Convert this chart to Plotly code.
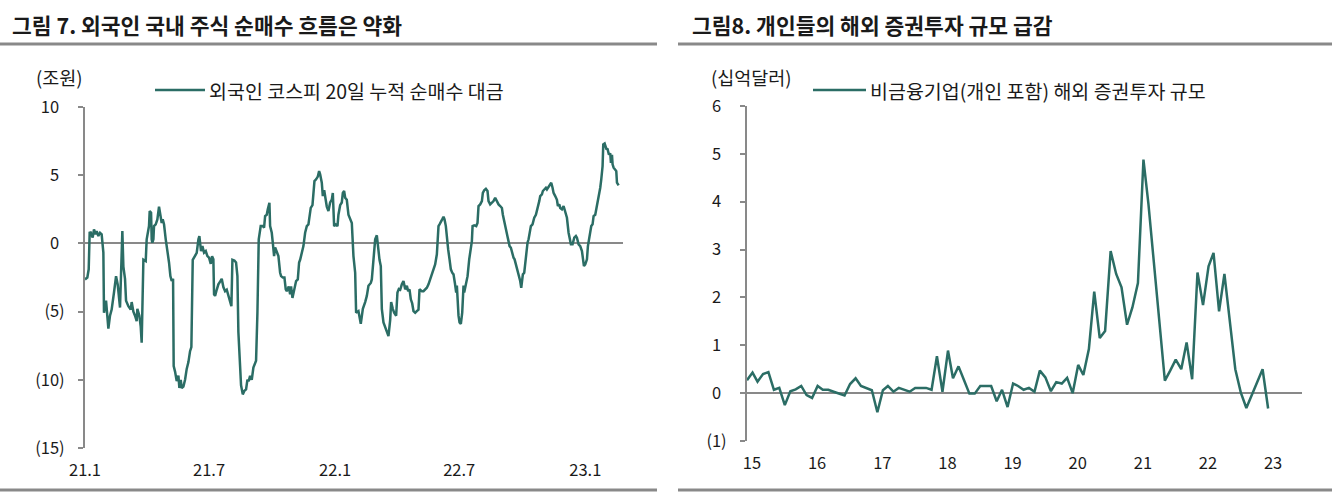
import pandas as pd
import plotly.graph_objects as go

# ---------------------------------------------------------------
# Data
# ---------------------------------------------------------------

# left chart: foreign KOSPI 20-day cumulative net buying (trillion won)
LEFT_START = "2021-01-01"
LEFT_DAYS = [
    0, 3.4, 5.4, 6.8, 8.3, 11.2, 13.1, 15.6, 17, 19.5,
    21.9, 24.3, 26.8, 27.7, 30.7, 32.6, 34.1, 36.5, 38.9, 42.3,
    45.3, 47.7, 51.1, 54.5, 56, 58.4, 59.9, 63.3, 66.7, 68.1,
    70.6, 73, 75.4, 76.4, 79.3, 81.3, 82.7, 85.2, 88.6, 90,
    91.5, 93.4, 94.4, 96.4, 97.3, 98.3, 99.8, 100.7, 103.2, 105.6,
    108, 110, 111.9, 113.4, 115.3, 117.8, 120.2, 122.6, 124.6, 126.5,
    128.5, 129.4, 131.4, 133.8, 136.3, 137.7, 139.7, 141.1, 143.6, 146,
    148.4, 150.9, 153.3, 155.2, 157.2, 160.6, 163, 165.5, 166.9, 167.9,
    169.3, 171.3, 173.7, 176.2, 178.6, 181, 183.5, 185.4, 187.3, 188.3,
    189.8, 192.2, 194.6, 197.1, 199.5, 201.9, 204.4, 206.8, 210.7, 213.6,
    215.1, 218, 220.4, 222.4, 223.8, 226.3, 227.7, 230.2, 232.6, 235,
    237, 238.9, 240.9, 243.3, 245.7, 249.6, 251.6, 253.5, 256.4, 259.4,
    261.3, 262.8, 265.2, 266.7, 269.1, 270.1, 272.5, 274, 275.9, 277.4,
    279.8, 282.2, 284.7, 286.1, 288.6, 291, 292.9, 294.4, 295.4, 297.3,
    299.3, 300.7, 302.7, 304.1, 306.6, 308, 310.5, 312.4, 313.9, 316.3,
    318.7, 321.2, 323.6, 326, 327.5, 329.4, 331.9, 333.3, 334.8, 337.2,
    339.7, 341.6, 343.1, 345.5, 347, 349, 350.4, 352.8, 355.2, 357.7,
    360.1, 361.6, 363.5, 365.9, 368.4, 369.8, 372.3, 374.7, 376.2, 378.1,
    379.6, 382, 384.4, 386.9, 389.3, 391.7, 394.2, 395.6, 399, 402.4,
    405.4, 408.8, 411.2, 413.6, 417, 418.5, 420, 421.9, 423.4, 425.8,
    427.3, 429.7, 431.6, 433.1, 435.5, 438.9, 442.8, 445.3, 446.7, 449.1,
    451.1, 454, 455.9, 457.9, 459.9, 462.3, 464.7, 467.2, 469.6, 471.5,
    473.5, 475.4, 477.4, 479.3, 481.8, 484.2, 486.6, 488.1, 491.5, 493.9,
    496.4, 498.8, 501.2, 503.6, 506.1, 508.5, 510.9, 513.4, 514.4, 515.8,
    517.3, 519.2, 521.2, 523.1, 524.6, 526.5, 528, 529.9, 531.9, 533.8,
    535.8, 537.7, 539.7, 541.6, 542.6, 543.6, 545, 546.5, 548.4, 550.4,
    551.3, 552.3, 553.3, 555.7, 558.2, 560.6, 563, 564.5, 565.5, 567.9,
    570.8, 572.7, 574.2, 576.6, 579.1, 580.5, 582.5, 584.9, 587.3, 588.8,
    591.2, 593.7, 596.1, 598.5, 600.9, 603.4, 605.8, 608.3, 609.7, 612.2,
    614.6, 616.5, 618, 619.5, 621.4, 622.9, 625.3, 626.8, 628.7, 630.2,
    631.6, 633.6, 635, 636.5, 637.5, 638.9, 640.9, 642.3, 643.8, 645.7,
    647.2, 648.7, 650.6, 653, 655.5, 657.9, 660.3, 662.8, 664.2, 666.7,
    668.1, 670.1, 672.5, 674, 676.4, 678.8, 680.3, 682.2, 683.7, 686.1,
    688.6, 690, 692, 693.4, 695.9, 698.3, 700.7, 703.2, 705.6, 707.1,
    709, 711.4, 713.9, 716.3, 717.8, 720.2, 722.6, 725.1, 726.5, 728,
    729.9, 732.4, 733.8, 735.8, 737.2, 738.7, 740.6, 742.1, 744.5, 747,
    749.4, 751.8, 753.3, 755.2, 756.2, 758.2, 760.6, 762.5, 764.5, 766.4,
    767.4, 768.9, 769.8, 771.3, 773.7, 775.2, 776.2, 778.6,
]
LEFT_VALUES = [
    -2.64, -2.5, -1.9, 0.78, 0.8, 0.42, 1.03, 0.66, 0.9, 0.54,
    0.78, 0.66, -0.68, -5.08, -4.2, -5.2, -6.25, -5.3, -4.85, -3.6,
    -2.4, -3.0, -4.7, 0.9, -1.7, -2.6, -4.2, -4.6, -4.85, -4.3,
    -5.0, -5.3, -5.7, -4.8, -5.3, -6.1, -7.28, -1.2, -1.3, 0.3,
    0.9, 1.27, 2.37, 2.25, 0.3, 0.05, 0.3, 1.27, 1.4, 1.76,
    2.69, 2.1, 1.5, 1.76, 1.4, 0.3, -0.44, -1.4, -2.4, -2.76,
    -2.6, -9.0, -9.4, -10.1, -9.7, -10.6, -10.0, -10.6, -10.5, -10.0,
    -9.2, -8.7, -7.9, -7.6, -1.2, -0.9, -0.7, 0.3, 0.54, 0.05,
    -0.56, -0.2, -0.68, -0.56, -0.93, -1.05, -1.5, -0.93, -1.17, -3.74,
    -3.85, -3.4, -3.0, -2.8, -2.6, -3.2, -3.5, -3.4, -4.0, -4.6,
    -1.2, -1.25, -1.4, -2.4, -6.5, -9.3, -10.4, -11.07, -10.8, -10.7,
    -10.0, -10.1, -9.7, -10.0, -9.1, -8.6, -5.07, 0.3, 1.27, 1.27,
    1.15, 2.0, 2.1, 2.5, 2.98, 1.27, 0.78, 0.05, -0.93, -0.3,
    -0.56, -0.93, -2.15, -2.4, -2.5, -2.5, -3.37, -3.5, -3.4, -3.15,
    -3.74, -3.15, -4.0, -3.6, -2.9, -2.76, -2.64, -1.4, -1.2, -0.73,
    -0.2, 0.78, 1.27, 1.39, 2.0, 2.6, 2.8, 3.47, 4.57, 4.7,
    4.9, 5.3, 5.06, 4.45, 3.47, 3.9, 3.47, 2.7, 2.37, 3.0,
    3.2, 3.7, 1.27, 1.39, 1.27, 2.1, 2.8, 3.0, 3.7, 3.84,
    3.35, 3.2, 2.1, 1.76, 1.5, -0.93, -2.15, -5.08, -4.96, -5.9,
    -4.8, -4.3, -3.85, -3.1, -2.9, -2.64, -1.66, -0.7, 0.3, 0.59,
    -0.2, -1.2, -1.66, -4.8, -5.8, -6.3, -6.8, -5.6, -4.3, -4.8,
    -5.08, -5.3, -3.6, -3.35, -3.4, -3.0, -2.76, -3.37, -3.1, -3.5,
    -3.37, -4.1, -4.4, -4.96, -5.08, -4.96, -4.85, -3.37, -3.5, -3.5,
    -3.37, -3.25, -3.0, -2.64, -2.4, -2.0, -1.54, -0.8, 0.3, 1.27,
    1.4, 1.64, 1.76, 1.96, 1.76, 1.27, 0.3, -0.44, -1.17, -1.9,
    -2.15, -2.27, -2.9, -3.6, -3.1, -4.1, -5.3, -5.8, -5.9, -5.08,
    -4.1, -3.1, -3.6, -3.1, -2.4, -1.17, -0.2, 0.17, 1.27, 1.32,
    1.27, 1.5, 2.74, 2.86, 3.1, 3.7, 3.9, 4.0, 3.84, 3.1,
    2.86, 2.98, 3.1, 3.35, 3.1, 2.86, 2.74, 2.6, 2.1, 1.5,
    0.78, 0.3, -0.07, -0.2, -0.32, -0.68, -1.05, -1.17, -1.54, -1.9,
    -2.15, -2.4, -2.76, -3.25, -2.64, -2.27, -2.15, -1.54, -0.68, 0.05,
    0.3, 0.78, 1.27, 1.4, 1.88, 2.1, 2.5, 3.1, 3.47, 3.6,
    3.84, 3.96, 4.08, 3.96, 4.16, 4.33, 4.45, 4.08, 3.7, 3.47,
    3.2, 2.74, 2.86, 2.6, 2.5, 2.74, 2.25, 1.88, 0.78, 0.3,
    -0.07, -0.07, 0.42, 0.54, 0.42, -0.07, -0.2, -0.56, -1.17, -1.66,
    -1.54, -1.17, -0.2, 0.54, 1.03, 1.27, 1.4, 2.0, 2.1, 2.74,
    3.47, 4.08, 4.7, 5.67, 7.26, 7.33, 6.94, 6.9, 6.5, 6.6,
    5.9, 6.5, 5.8, 5.55, 5.4, 5.3, 4.45, 4.25,
]
LEFT_TICK_DATES = ["2021-01-01", "2021-07-01", "2022-01-01", "2022-07-01", "2023-01-01"]
LEFT_TICK_LABELS = ["21.1", "21.7", "22.1", "22.7", "23.1"]
LEFT_Y_TICKS = [10, 5, 0, -5, -10, -15]

# right chart: non-financial (incl. individuals) overseas securities investment (bn USD), monthly
RIGHT_START = "2015-01-01"
RIGHT_VALUES = [
    0.27, 0.43, 0.24, 0.40, 0.44, 0.07, 0.11, -0.25, 0.04, 0.08, 0.15, -0.04,
    -0.10, 0.15, 0.07, 0.07, 0.03, -0.01, -0.05, 0.19, 0.31, 0.15, 0.10, 0.06,
    -0.40, 0.06, 0.15, 0.03, 0.11, 0.07, 0.03, 0.11, 0.11, 0.11, 0.07, 0.77,
    0.03, 0.89, 0.31, 0.56, 0.28, -0.01, -0.01, 0.15, 0.15, 0.15, -0.17, 0.07,
    -0.29, 0.20, 0.15, 0.07, 0.11, 0.03, 0.47, 0.33, 0.04, 0.23, 0.20, 0.32,
    0.00, 0.59, 0.38, 0.92, 2.12, 1.15, 1.30, 2.97, 2.49, 2.21, 1.43, 1.79,
    2.30, 4.88, 3.95, None, None, 0.26, 0.47, 0.70, 0.50, 1.06, 0.29, 2.52,
    1.84, 2.65, 2.93, 1.71, 2.49, None, 0.50, 0.01, -0.31, None, None, 0.50,
    -0.32,
]
RIGHT_YEARS = [2015, 2016, 2017, 2018, 2019, 2020, 2021, 2022, 2023]
RIGHT_Y_TICKS = [6, 5, 4, 3, 2, 1, 0, -1]

# ---------------------------------------------------------------
# Style
# ---------------------------------------------------------------

W, H = 1343, 493
FONT = "Noto Sans CJK KR"
TEAL = "#2b6d65"
GRAY = "#898989"
TEXT = "#1a1a1a"
GHOST = '<span style="color:rgba(0,0,0,0)">)</span>'


def px_x(p):
    return p / W


def px_y(p):
    return 1 - p / H


def acct(v):
    return f"({abs(v)})" if v < 0 else f"{v}{GHOST}"


left_dates = pd.Timestamp(LEFT_START) + pd.to_timedelta(LEFT_DAYS, unit="D")
right_dates = pd.date_range(RIGHT_START, periods=len(RIGHT_VALUES), freq="MS")
right_tick_dates = [f"{y}-01-01" for y in RIGHT_YEARS]
right_tick_labels = [str(y)[2:] for y in RIGHT_YEARS]

fig = go.Figure()

fig.add_trace(
    go.Scatter(
        x=left_dates,
        y=LEFT_VALUES,
        mode="lines",
        line=dict(color=TEAL, width=2.5),
        xaxis="x",
        yaxis="y",
        showlegend=False,
        hoverinfo="skip",
    )
)

fig.add_trace(
    go.Scatter(
        x=right_dates,
        y=RIGHT_VALUES,
        mode="lines",
        connectgaps=True,
        line=dict(color=TEAL, width=2.5),
        xaxis="x2",
        yaxis="y2",
        showlegend=False,
        hoverinfo="skip",
    )
)

tickfont = dict(family=FONT, size=16.5, color=TEXT)

label_x = dict(
    showline=False, showgrid=False, zeroline=False, ticks="",
    tickfont=tickfont, automargin=False, ticklabelstandoff=10,
)
tick_x = dict(
    showline=False, showgrid=False, zeroline=False, ticks="outside",
    ticklen=5, tickwidth=2, tickcolor=GRAY, showticklabels=False,
    anchor="free", automargin=False,
)
value_y = dict(
    showline=True, linecolor=GRAY, linewidth=2, showgrid=False,
    ticks="outside", ticklen=5, tickwidth=2, tickcolor=GRAY,
    zeroline=True, zerolinecolor=GRAY, zerolinewidth=2,
    tickfont=tickfont, automargin=False, ticklabelstandoff=10,
)

fig.update_layout(
    width=W,
    height=H,
    template="none",
    paper_bgcolor="white",
    plot_bgcolor="white",
    margin=dict(l=0, r=0, t=0, b=0),
    font=dict(family=FONT, color=TEXT),
    showlegend=False,
    xaxis=dict(
        label_x,
        domain=[px_x(85), px_x(623)],
        anchor="y",
        range=["2021-01-01", "2023-02-25"],
        tickvals=LEFT_TICK_DATES,
        ticktext=LEFT_TICK_LABELS,
    ),
    xaxis3=dict(
        tick_x,
        overlaying="x",
        matches="x",
        position=px_y(244),
        tickvals=LEFT_TICK_DATES,
    ),
    yaxis=dict(
        value_y,
        domain=[px_y(448), px_y(107)],
        anchor="x",
        range=[-15, 10],
        tickvals=LEFT_Y_TICKS,
        ticktext=[acct(v) for v in LEFT_Y_TICKS],
    ),
    xaxis2=dict(
        label_x,
        domain=[px_x(747), px_x(1302)],
        anchor="y2",
        range=["2015-01-01", "2023-07-10"],
        tickvals=right_tick_dates,
        ticktext=right_tick_labels,
        ticklabelshift=5,
    ),
    xaxis4=dict(
        tick_x,
        overlaying="x2",
        matches="x2",
        position=px_y(394),
        tickvals=right_tick_dates,
    ),
    yaxis2=dict(
        value_y,
        domain=[px_y(441), px_y(106)],
        anchor="x2",
        range=[-1, 6],
        tickvals=RIGHT_Y_TICKS,
        ticktext=[acct(v) for v in RIGHT_Y_TICKS],
    ),
)

# =====================================================
# Titles, rules, units, legends
# =====================================================

titles = [
    (10, "그림 7. 외국인 국내 주식 순매수 흐름은 약화"),
    (690, "그림8. 개인들의 해외 증권투자 규모 급감"),
]
for x0, text in titles:
    fig.add_annotation(
        x=px_x(x0), y=px_y(24), xref="paper", yref="paper",
        xanchor="left", yanchor="middle", showarrow=False,
        text=f"<b>{text}</b>", font=dict(family=FONT, size=21.5, color=TEXT),
    )

for x0, x1 in [(0, 657), (678, 1332)]:
    for yy in (44, 490):
        fig.add_shape(
            type="line", xref="paper", yref="paper",
            x0=px_x(x0), x1=px_x(x1), y0=px_y(yy), y1=px_y(yy),
            line=dict(color=GRAY, width=3),
        )

units = [(59, "(조원)"), (751, "(십억달러)")]
for xc, text in units:
    fig.add_annotation(
        x=px_x(xc), y=px_y(77), xref="paper", yref="paper",
        xanchor="center", yanchor="middle", showarrow=False,
        text=text, font=dict(family=FONT, size=18.5, color=TEXT),
    )

legends = [
    (155, 205, "외국인 코스피 20일 누적 순매수 대금"),
    (813, 866, "비금융기업(개인 포함) 해외 증권투자 규모"),
]
for x0, x1, text in legends:
    fig.add_shape(
        type="line", xref="paper", yref="paper",
        x0=px_x(x0), x1=px_x(x1), y0=px_y(90), y1=px_y(90),
        line=dict(color=TEAL, width=2.5),
    )
    fig.add_annotation(
        x=px_x(x1 + 2), y=px_y(90), xref="paper", yref="paper",
        xanchor="left", yanchor="middle", showarrow=False,
        text=text, font=dict(family=FONT, size=19.5, color=TEXT),
    )

fig.write_html(
    "out.html",
    config={"displayModeBar": False},
    post_script="document.body.style.margin='0px';",
)
